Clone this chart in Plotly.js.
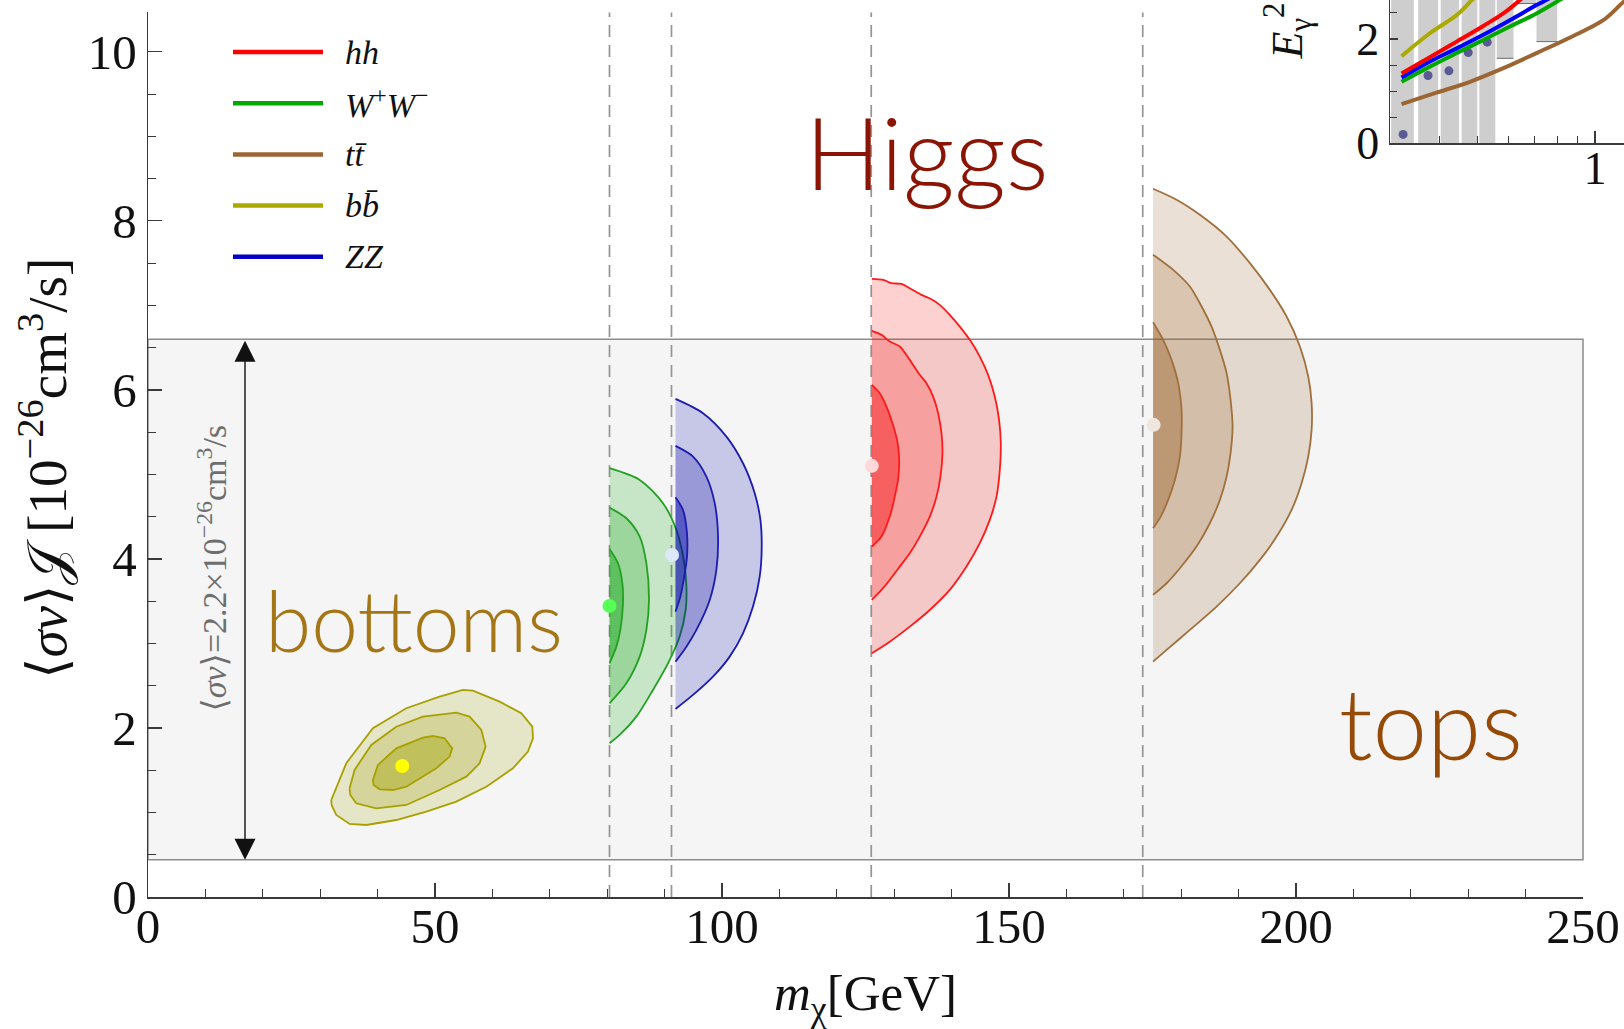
<!DOCTYPE html>
<html>
<head>
<meta charset="utf-8">
<script src="https://cdn.plot.ly/plotly-3.0.1.min.js"></script>
<style>
  html, body { margin: 0; padding: 0; background: #ffffff; }
  #chart { width: 1624px; height: 1029px; }
</style>
</head>
<body>
<div id="chart"></div>
<script>
// ---------- Main panel: best-fit regions in the (m_chi, <sigma v> J) plane ----------
// Mass thresholds of the annihilation channels (GeV)
const thresholdMasses = [80.4, 91.2, 126, 173.3];

// Allowed band for <sigma v> = 2.2e-26 cm^3/s times the J-factor range
const bandLow = 0.44;
const bandHigh = 6.6;

// b bbar channel (closed contours), 1, 2, 3 sigma
const bbOuterX = [31.93, 34.54, 39.18, 45.0, 50.8, 54.87, 56.6, 61.26, 65.04, 66.96, 67.07, 66.2, 63.58, 58.94, 53.71, 48.48, 43.25, 38.03, 35.12, 32.8, 31.98, 31.93];
const bbOuterY = [1.148, 1.582, 1.996, 2.233, 2.371, 2.450, 2.442, 2.311, 2.174, 2.015, 1.878, 1.720, 1.523, 1.305, 1.128, 1.010, 0.911, 0.852, 0.864, 0.970, 1.089, 1.148];
const bbMidX = [35.12, 35.99, 38.9, 43.25, 47.9, 53.71, 56.03, 58.07, 58.82, 57.77, 55.45, 50.8, 45.0, 39.77, 36.28, 35.24, 35.12];
const bbMidY = [1.286, 1.503, 1.799, 2.015, 2.134, 2.181, 2.134, 1.976, 1.779, 1.582, 1.424, 1.266, 1.089, 1.049, 1.109, 1.207, 1.286];
const bbInnerX = [39.18, 40.05, 43.25, 47.9, 49.63, 51.67, 53.01, 52.54, 50.23, 45.0, 42.66, 40.34, 39.3, 39.18];
const bbInnerY = [1.385, 1.562, 1.759, 1.886, 1.905, 1.878, 1.759, 1.661, 1.523, 1.305, 1.266, 1.274, 1.325, 1.385];
const bbBest = [44.3, 1.55];

// W+W- channel (cut at the W mass)
const wwOuterX = [80.4, 85.66, 89.72, 92.05, 93.33, 93.8, 93.67, 92.63, 90.59, 87.97, 85.08, 82.17, 80.4];
const wwOuterY = [5.073, 4.935, 4.659, 4.343, 3.988, 3.672, 3.396, 3.081, 2.765, 2.450, 2.134, 1.917, 1.819];
const wwMidX = [80.4, 83.34, 85.66, 86.82, 87.28, 86.82, 85.66, 83.34, 80.4];
const wwMidY = [4.607, 4.481, 4.264, 3.949, 3.515, 3.160, 2.844, 2.529, 2.292];
const wwInnerX = [80.4, 81.88, 82.64, 82.75, 82.29, 81.6, 80.4];
const wwInnerY = [4.118, 3.949, 3.712, 3.476, 3.160, 2.962, 2.765];
const wwBest = [80.4, 3.444];

// ZZ channel
const zzOuterX = [91.9, 96.69, 100.77, 103.66, 105.7, 106.69, 106.92, 106.57, 105.4, 103.66, 101.34, 98.43, 94.95, 91.9];
const zzOuterY = [5.893, 5.724, 5.447, 5.132, 4.777, 4.462, 4.146, 3.791, 3.436, 3.120, 2.844, 2.607, 2.391, 2.225];
const zzMidX = [91.9, 94.95, 97.28, 98.73, 99.31, 99.02, 97.86, 95.54, 93.8, 91.9];
const zzMidY = [5.337, 5.211, 4.974, 4.659, 4.264, 3.870, 3.515, 3.160, 2.962, 2.785];
const zzInnerX = [91.9, 93.2, 93.9, 93.9, 93.33, 92.75, 91.9];
const zzInnerY = [4.730, 4.580, 4.304, 4.027, 3.751, 3.554, 3.376];
const zzBest = [91.3, 4.047];

// hh channel
const hhOuterX = [126.1, 128.06, 129.52, 131.26, 132.71, 134.75, 136.49, 137.94, 139.68, 141.43, 143.17, 144.91, 146.36, 147.52, 148.27, 148.57, 148.4, 147.82, 146.65, 144.91, 142.59, 139.68, 136.2, 132.71, 129.22, 126.1];
const hhOuterY = [7.314, 7.302, 7.262, 7.254, 7.203, 7.124, 7.073, 7.006, 6.888, 6.749, 6.592, 6.394, 6.178, 5.921, 5.645, 5.369, 5.053, 4.737, 4.462, 4.186, 3.909, 3.633, 3.396, 3.199, 3.021, 2.884];
const hhMidX = [126.1, 127.78, 129.22, 130.97, 132.71, 134.45, 135.62, 136.78, 137.65, 138.24, 138.41, 138.06, 137.37, 136.2, 134.45, 132.71, 130.97, 129.22, 127.78, 126.1];
const hhMidY = [6.698, 6.651, 6.572, 6.513, 6.355, 6.178, 6.079, 5.921, 5.724, 5.487, 5.251, 4.974, 4.737, 4.501, 4.264, 4.067, 3.909, 3.751, 3.633, 3.515];
const hhInnerX = [126.1, 127.48, 128.65, 129.69, 130.5, 130.85, 130.74, 130.1, 129.22, 127.78, 126.1];
const hhInnerY = [6.059, 5.960, 5.803, 5.606, 5.408, 5.211, 4.974, 4.737, 4.501, 4.264, 4.146];
const hhBest = [126.1, 5.101];

// t tbar channel
const ttOuterX = [175.1, 179.19, 183.25, 187.91, 191.97, 195.45, 198.36, 200.68, 202.13, 202.72, 202.72, 202.13, 200.97, 199.23, 196.62, 193.71, 190.22, 186.16, 181.51, 177.45, 175.1];
const ttOuterY = [8.379, 8.249, 8.071, 7.814, 7.499, 7.183, 6.868, 6.513, 6.158, 5.843, 5.527, 5.211, 4.896, 4.580, 4.264, 3.988, 3.712, 3.436, 3.160, 2.923, 2.785];
const ttMidX = [175.1, 178.6, 181.51, 183.55, 185.29, 186.74, 187.91, 188.6, 188.95, 188.6, 187.91, 186.74, 184.99, 182.67, 179.77, 177.45, 175.1];
const ttMidY = [7.598, 7.420, 7.223, 6.986, 6.749, 6.473, 6.198, 5.882, 5.566, 5.251, 4.974, 4.698, 4.422, 4.146, 3.890, 3.712, 3.574];
const ttInnerX = [175.1, 176.86, 178.32, 179.48, 180.06, 180.06, 179.77, 178.9, 177.73, 176.28, 175.1];
const ttInnerY = [6.801, 6.592, 6.355, 6.079, 5.763, 5.487, 5.211, 4.935, 4.698, 4.482, 4.363];
const ttBest = [175.2, 5.586];

const xTickVals = [0, 50, 100, 150, 200, 250];
const yTickVals = [0, 2, 4, 6, 8, 10];

// ---------- Inset: gamma-ray spectrum with channel predictions ----------
const specBinLo = [0.300, 0.352, 0.402, 0.455, 0.505, 0.560, 0.628, 0.708];
const specBinHi = [0.343, 0.396, 0.448, 0.499, 0.555, 0.618, 0.706, 0.800];
const specErrLo = [0, 0, 0, 0, 0, 1.63, 2.68, 1.95];
const specErrHi = [3.4, 3.4, 3.4, 3.4, 3.4, 3.4, 3.4, 3.4];
const specE = [0.322, 0.373, 0.422, 0.473, 0.529];
const specFlux = [0.17, 1.30, 1.39, 1.74, 1.94];

const hhE = [0.319, 0.377, 0.442, 0.517, 0.582, 0.636, 0.66];
const hhF = [1.34, 1.65, 1.95, 2.25, 2.49, 2.72, 2.83];
const wwE = [0.319, 0.377, 0.442, 0.517, 0.605, 0.708, 0.813, 0.86];
const wwF = [1.18, 1.47, 1.73, 1.98, 2.24, 2.49, 2.75, 2.86];
const ttE = [0.319, 0.392, 0.478, 0.582, 0.708, 0.863, 1.05, 1.187, 1.25];
const ttF = [0.75, 0.97, 1.18, 1.44, 1.73, 2.03, 2.36, 2.72, 2.84];
const bbE = [0.319, 0.377, 0.442, 0.484, 0.51];
const bbF = [1.67, 2.11, 2.46, 2.75, 2.9];
const zzE = [0.319, 0.377, 0.442, 0.517, 0.605, 0.708, 0.751, 0.79];
const zzF = [1.26, 1.57, 1.82, 2.08, 2.36, 2.65, 2.75, 2.86];

const channelNames = ['hh', 'WW', 'tt', 'bb', 'ZZ'];
const channelLabels = [
  '<i>hh</i>',
  '<i>W</i><sup>+</sup><i>W</i><sup>\u2212</sup>',
  '<i>tt\u0304</i>',
  '<i>bb\u0304</i>',
  '<i>ZZ</i>'
];
const channelColors = ['#ff0000', '#00a800', '#9c6633', '#aaaa00', '#0000c8'];
const insetColors = ['#ff0000', '#00a800', '#9c6633', '#aaaa00', '#0000ff'];

// ---------- styling ----------
const SERIF = 'Liberation Serif, DejaVu Serif, serif';
const SANS = 'Lato, Roboto, sans-serif';
const AXIS_COL = '#3a3a3a';

const styles = {
  bb: {rgb: '160,160,0', alphas: [0.19, 0.22, 0.40], line: '#a8a000', dot: '#ffff00', shape: 'linear'},
  ww: {rgb: '0,160,0', alphas: [0.19, 0.21, 0.40], line: '#22a022', dot: '#55ff55', shape: 'spline'},
  zz: {rgb: '0,0,170', alphas: [0.19, 0.23, 0.41], line: '#1c1cb0', dot: '#dde8f8', shape: 'spline'},
  hh: {rgb: '250,0,0', alphas: [0.18, 0.20, 0.40], line: '#ff1a1a', dot: '#ffd8d8', shape: 'spline'},
  tt: {rgb: '150,90,30', alphas: [0.19, 0.20, 0.38], line: '#a0703c', dot: '#efe6df', shape: 'spline'}
};

const traces = [];

function addRegion(levels, best, st) {
  levels.forEach(function (lv, i) {
    traces.push({
      type: 'scatter', mode: 'lines',
      x: lv[0], y: lv[1],
      fill: 'toself',
      fillcolor: 'rgba(' + st.rgb + ',' + st.alphas[i] + ')',
      line: {color: st.line, width: 1.8, shape: st.shape, smoothing: 0.8},
      hoverinfo: 'skip', showlegend: false,
      xaxis: 'x', yaxis: 'y'
    });
  });
  traces.push({
    type: 'scatter', mode: 'markers',
    x: [best[0]], y: [best[1]],
    marker: {color: st.dot, size: 14, line: {width: 0}},
    hoverinfo: 'skip', showlegend: false,
    xaxis: 'x', yaxis: 'y', cliponaxis: false
  });
}

addRegion([[bbOuterX, bbOuterY], [bbMidX, bbMidY], [bbInnerX, bbInnerY]], bbBest, styles.bb);
addRegion([[wwOuterX, wwOuterY], [wwMidX, wwMidY], [wwInnerX, wwInnerY]], wwBest, styles.ww);
addRegion([[zzOuterX, zzOuterY], [zzMidX, zzMidY], [zzInnerX, zzInnerY]], zzBest, styles.zz);
addRegion([[hhOuterX, hhOuterY], [hhMidX, hhMidY], [hhInnerX, hhInnerY]], hhBest, styles.hh);
addRegion([[ttOuterX, ttOuterY], [ttMidX, ttMidY], [ttInnerX, ttInnerY]], ttBest, styles.tt);

// inset: systematic-uncertainty boxes built from the bin edges and flux bounds
specBinLo.forEach(function (lo, i) {
  const hi = specBinHi[i];
  traces.push({
    type: 'scatter', mode: 'lines',
    x: [lo, hi, hi, lo, lo],
    y: [specErrLo[i], specErrLo[i], specErrHi[i], specErrHi[i], specErrLo[i]],
    fill: 'toself', fillcolor: '#cecece',
    line: {width: 0, color: 'rgba(0,0,0,0)'},
    hoverinfo: 'skip', showlegend: false,
    xaxis: 'x2', yaxis: 'y2'
  });
  if (specErrLo[i] > 0) {
    traces.push({
      type: 'scatter', mode: 'lines',
      x: [lo, hi], y: [specErrLo[i], specErrLo[i]],
      line: {width: 1, color: '#6a6a6a'},
      hoverinfo: 'skip', showlegend: false,
      xaxis: 'x2', yaxis: 'y2'
    });
  }
});
traces.push({
  type: 'scatter', mode: 'markers',
  x: specE, y: specFlux,
  marker: {color: '#5a5a94', size: 9},
  hoverinfo: 'skip', showlegend: false,
  xaxis: 'x2', yaxis: 'y2'
});
const insetSeries = [[ttE, ttF], [bbE, bbF], [wwE, wwF], [zzE, zzF], [hhE, hhF]];
const insetIdx = [2, 3, 1, 4, 0];
insetSeries.forEach(function (s, k) {
  const ci = insetIdx[k];
  traces.push({
    type: 'scatter', mode: 'lines',
    x: s[0], y: s[1], name: channelNames[ci],
    line: {color: insetColors[ci], width: 4, shape: 'spline'},
    hoverinfo: 'skip', showlegend: false,
    xaxis: 'x2', yaxis: 'y2'
  });
});

// ---------- geometry of the figure ----------
const plotW = 1476, plotH = 897;            // plot area with l=148, r=0, t=0, b=132
const mainRight = 1435 / plotW;             // right edge of the main frame
const mainTop = (plotH - 12.4) / plotH;     // top edge of the main frame
const yMax = 10.466;

function px2paperX(X) { return (X - 148) / plotW; }
function px2paperY(Y) { return (plotH - Y) / plotH; }

const shapes = [];
// shaded band
shapes.push({
  type: 'rect', layer: 'below',
  xref: 'x domain', yref: 'y', x0: 0, x1: 1, y0: bandLow, y1: bandHigh,
  fillcolor: '#f5f5f5', line: {color: '#8c8c8c', width: 1.5}
});
// threshold lines
thresholdMasses.forEach(function (m) {
  shapes.push({
    type: 'line', layer: 'below',
    xref: 'x', yref: 'y domain', x0: m, x1: m, y0: 0, y1: 1,
    line: {color: '#959595', width: 1.7, dash: '12px,8px'}
  });
});

// legend (swatches and labels)
const annotations = [];
const legX0 = px2paperX(233), legX1 = px2paperX(323);
channelLabels.forEach(function (lab, i) {
  const yy = px2paperY(52 + i * 51.2);
  shapes.push({
    type: 'line', xref: 'paper', yref: 'paper',
    x0: legX0, x1: legX1, y0: yy, y1: yy,
    line: {color: channelColors[i], width: 4.5}
  });
  annotations.push({
    xref: 'paper', yref: 'paper', x: px2paperX(343), y: yy,
    xanchor: 'left', yanchor: 'middle', showarrow: false,
    text: lab, font: {family: SERIF, size: 34, color: '#111'}
  });
});

// double arrow spanning the band
annotations.push({
  xref: 'x', yref: 'y', axref: 'x', ayref: 'y',
  x: 16.9, y: bandLow, ax: 16.9, ay: bandHigh,
  text: '', showarrow: true,
  arrowhead: 2, startarrowhead: 2, arrowside: 'end+start',
  arrowsize: 3, startarrowsize: 3, arrowwidth: 1.4, arrowcolor: '#111',
  standoff: 0, startstandoff: 0
});
annotations.push({
  xref: 'x', yref: 'y', x: 11.2, y: 3.89,
  xanchor: 'center', yanchor: 'middle',
  text: '\u27E8<i>\u03C3v</i>\u27E9=2.2\u00D710<sup>\u221226</sup>cm<sup>3</sup>/s',
  textangle: -90, showarrow: false,
  font: {family: SERIF, size: 34, color: '#6e6e6e'}
});

// channel group labels
annotations.push({
  xref: 'x', yref: 'y', x: 135.7, y: 8.83, text: 'Higgs', showarrow: false,
  font: {family: SANS, size: 101, color: '#8a1505', weight: 300}
});
annotations.push({
  xref: 'x', yref: 'y', x: 46.3, y: 3.28, text: 'bottoms', showarrow: false,
  font: {family: SANS, size: 84, color: '#a57616', weight: 300}
});
annotations.push({
  xref: 'x', yref: 'y', x: 223.5, y: 2.07, text: 'tops', showarrow: false,
  font: {family: SANS, size: 98, color: '#964a08', weight: 300}
});

// axis titles
annotations.push({
  xref: 'paper', yref: 'paper', x: px2paperX(865), y: px2paperY(997),
  xanchor: 'center', yanchor: 'middle',
  text: '<i>m</i><sub>\u03C7</sub>[GeV]', showarrow: false,
  font: {family: SERIF, size: 51, color: '#111'}
});
annotations.push({
  xref: 'paper', yref: 'paper', x: px2paperX(44), y: px2paperY(469),
  xanchor: 'center', yanchor: 'middle',
  text: '\u27E8<i>\u03C3v</i>\u27E9\uD835\uDCA5 [10<sup>\u221226</sup>cm<sup>3</sup>/s]',
  textangle: -90, showarrow: false,
  font: {family: SERIF, size: 55, color: '#111'}
});
// inset y title (runs off the top of the figure)
annotations.push({
  xref: 'paper', yref: 'paper', x: px2paperX(1288), y: px2paperY(62),
  xanchor: 'center', yanchor: 'bottom',
  text: '<i>E</i><sub>\u03B3</sub><sup>2</sup> d<i>N</i>/d<i>E</i>',
  textangle: -90, showarrow: false,
  font: {family: SERIF, size: 44, color: '#111'}
});

const tickCommon = {
  showline: true, linecolor: AXIS_COL, linewidth: 1.5,
  ticks: 'inside', tickcolor: AXIS_COL, tickwidth: 1.3,
  showgrid: false, zeroline: false, fixedrange: true
};

const layout = {
  width: 1624, height: 1029,
  margin: {l: 148, r: 0, t: 0, b: 132, pad: 0},
  paper_bgcolor: '#ffffff', plot_bgcolor: 'rgba(0,0,0,0)',
  showlegend: false,
  xaxis: Object.assign({}, tickCommon, {
    domain: [0, mainRight], range: [0, 250], anchor: 'y',
    tickmode: 'array', tickvals: xTickVals, ticklen: 14, ticklabelstandoff: -14,
    minor: {dtick: 10, ticklen: 8, ticks: 'inside', tickcolor: AXIS_COL, tickwidth: 1},
    tickfont: {family: SERIF, size: 49, color: '#111'}
  }),
  yaxis: Object.assign({}, tickCommon, {
    domain: [0, mainTop], range: [0, yMax], anchor: 'x',
    tickmode: 'array', tickvals: yTickVals, ticklen: 14,
    minor: {dtick: 0.5, ticklen: 8, ticks: 'inside', tickcolor: AXIS_COL, tickwidth: 1},
    tickfont: {family: SERIF, size: 49, color: '#111'}
  }),
  // top frame, stopping where the inset begins
  xaxis3: Object.assign({}, tickCommon, {
    domain: [0, px2paperX(1357)], range: [0, (1357 - 148) / (1435 / 250)], anchor: 'y3', side: 'top',
    tickmode: 'array', tickvals: xTickVals, ticklen: 14, showticklabels: false,
    minor: {dtick: 10, ticklen: 8, ticks: 'inside', tickcolor: AXIS_COL, tickwidth: 1}
  }),
  yaxis3: {domain: [0, mainTop], range: [0, 1], anchor: 'x3', visible: false, fixedrange: true},
  // right frame, starting below the inset
  xaxis4: {domain: [0, mainRight], range: [0, 1], anchor: 'y4', visible: false, fixedrange: true},
  yaxis4: Object.assign({}, tickCommon, {
    domain: [0, px2paperY(267)], range: [0, (897 - 267) / 84.5], anchor: 'x4', side: 'right',
    tickmode: 'array', tickvals: yTickVals, ticklen: 14, showticklabels: false,
    minor: {dtick: 0.5, ticklen: 8, ticks: 'inside', tickcolor: AXIS_COL, tickwidth: 1}
  }),
  // inset axes
  xaxis2: Object.assign({}, tickCommon, {
    type: 'log', domain: [px2paperX(1390), 1], range: [Math.log10(0.298), 0.0744], anchor: 'y2',
    tickmode: 'array', tickvals: [1], ticktext: ['1'], ticklen: 12, ticklabelstandoff: -16,
    minor: {tickmode: 'array', tickvals: [0.4, 0.5, 0.6, 0.7, 0.8, 0.9], ticklen: 7, ticks: 'inside', tickcolor: AXIS_COL, tickwidth: 1},
    tickfont: {family: SERIF, size: 46, color: '#111'}
  }),
  yaxis2: Object.assign({}, tickCommon, {
    domain: [px2paperY(143.3), 1], range: [0, 143.3 / 52.15], anchor: 'x2',
    tickmode: 'array', tickvals: [0, 2], ticklen: 8,
    minor: {dtick: 0.5, ticklen: 7, ticks: 'inside', tickcolor: AXIS_COL, tickwidth: 1},
    tickfont: {family: SERIF, size: 46, color: '#111'}
  }),
  shapes: shapes,
  annotations: annotations
};

Plotly.newPlot('chart', traces, layout, {displayModeBar: false, staticPlot: true});
</script>
</body>
</html>
